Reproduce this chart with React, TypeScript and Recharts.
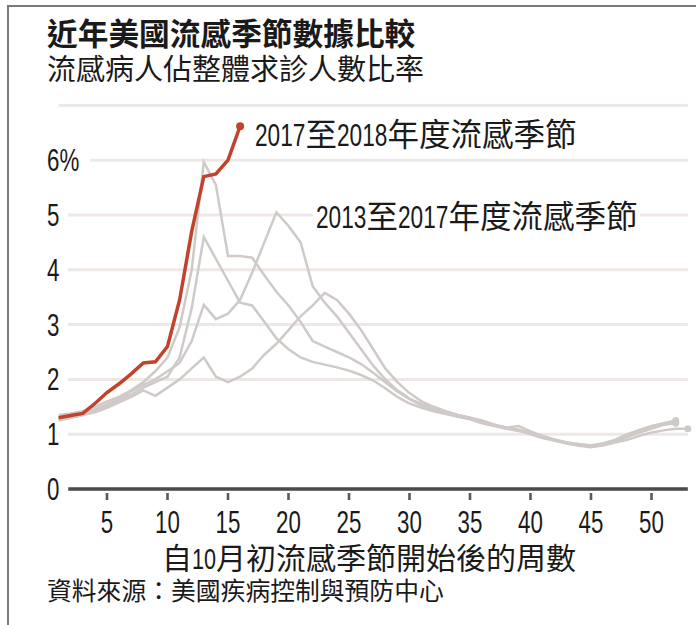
import { CartesianGrid, Line, LineChart, ReferenceLine, XAxis, YAxis } from "recharts";

const weeks = [
  1, 2, 3, 4, 5, 6, 7, 8, 9, 10, 11, 12, 13, 14, 15, 16, 17, 18, 19, 20, 21, 22, 23, 24, 25, 26,
  27, 28, 29, 30, 31, 32, 33, 34, 35, 36, 37, 38, 39, 40, 41, 42, 43, 44, 45, 46, 47, 48, 49, 50,
  51, 52, 53,
];

// 2017-18 season, weeks 1-16
const season1718 = [1.3, 1.34, 1.38, 1.56, 1.76, 1.92, 2.1, 2.3, 2.32, 2.6, 3.45, 4.7, 5.7, 5.75, 6.0, 6.62];

// 2013-17 seasons
const season1314 = [
  1.28, 1.3, 1.35, 1.42, 1.52, 1.62, 1.72, 1.85, 1.95, 2.05, 2.4, 3.3, 4.6, 4.2, 3.8, 3.4, 3.35, 3.05,
  2.75, 2.55, 2.4, 2.32, 2.27, 2.22, 2.16, 2.08, 1.98, 1.84, 1.68, 1.56, 1.48, 1.42, 1.37, 1.32, 1.27,
  1.2, 1.15, 1.1, 1.06, 1.0, 0.93, 0.88, 0.83, 0.79, 0.76, 0.8, 0.86, 0.95, 1.05, 1.12, 1.18, 1.22,
];
const season1415 = [
  1.35, 1.38, 1.42, 1.5, 1.6, 1.68, 1.8, 1.95, 2.15, 2.4, 2.95, 4.0, 5.97, 5.55, 4.25, 4.25, 4.22, 3.9,
  3.6, 3.35, 3.05, 2.7, 2.6, 2.5, 2.4, 2.28, 2.12, 1.95, 1.78, 1.64, 1.52, 1.45, 1.4, 1.33, 1.28,
  1.22, 1.17, 1.12, 1.08, 1.02, 0.95, 0.9, 0.85, 0.8, 0.78, 0.8, 0.85, 0.9, 0.97, 1.03, 1.07, 1.1, 1.1,
];
const season1516 = [
  1.25, 1.3, 1.35, 1.4, 1.48, 1.58, 1.68, 1.8, 1.7, 1.85, 2.0, 2.2, 2.4, 2.05, 1.95, 2.05, 2.2, 2.45,
  2.65, 2.9, 3.15, 3.35, 3.58, 3.45, 3.2, 2.9, 2.55, 2.2, 1.95, 1.75, 1.6, 1.5, 1.42, 1.35, 1.3, 1.25,
  1.18, 1.12, 1.08, 1.03, 0.96, 0.9, 0.85, 0.82, 0.8, 0.83, 0.88, 0.95, 1.03, 1.1, 1.17, 1.2,
];
const season1617 = [
  1.3, 1.33, 1.38, 1.45, 1.55, 1.65, 1.78, 1.9, 2.0, 2.15, 2.3, 2.7, 3.36, 3.1, 3.2, 3.45, 3.95, 4.5,
  5.05, 4.8, 4.5, 3.7, 3.4, 3.15, 2.85, 2.55, 2.25, 2.0, 1.8, 1.65, 1.55, 1.47, 1.4, 1.35, 1.3, 1.23,
  1.17, 1.12, 1.15, 1.05, 0.97, 0.9, 0.84, 0.8, 0.78, 0.83, 0.9, 1.0, 1.08, 1.15, 1.2, 1.25,
];

const xTicks = [5, 10, 15, 20, 25, 30, 35, 40, 45, 50];
const yTicks = [0, 1, 2, 3, 4, 5, 6];
const yLabels = ["0", "1", "2", "3", "4", "5", "6%"];

const greySeries = [
  { key: "s1314", values: season1314 },
  { key: "s1415", values: season1415 },
  { key: "s1516", values: season1516 },
  { key: "s1617", values: season1617 },
];

const rows = weeks.map((week, i) => {
  const row: Record<string, number | null> = { week };
  for (const s of greySeries) row[s.key] = s.values[i] ?? null;
  row.s1718 = season1718[i] ?? null;
  return row;
});

const LATIN = "'Liberation Sans', Arial, sans-serif";
const CJK = "'Noto Sans CJK TC', 'Noto Sans CJK SC', sans-serif";
const SQUEEZE = 0.72;

const GREY = "#cfcac8";
const RED = "#c1432b";

function XTick(props: any) {
  const { x, payload } = props;
  return (
    <g>
      <rect x={x - 1.3} y={493} width={2.6} height={7} fill="#5a5a5a" />
      <text
        transform={`translate(${x},533) scale(${SQUEEZE},1)`}
        textAnchor="middle"
        fontFamily={LATIN}
        fontSize={31}
        fill="#1a1a1a"
      >
        {payload.value}
      </text>
    </g>
  );
}

function YTick(props: any) {
  const { y, payload } = props;
  const label = yLabels[yTicks.indexOf(payload.value)];
  const w = label.length > 1 ? 46 : 24;
  return (
    <g>
      <rect x={44} y={y - 11} width={w} height={22} fill="#fff" />
      <text
        transform={`translate(47,${y + 11}) scale(${SQUEEZE},1)`}
        textAnchor="start"
        fontFamily={LATIN}
        fontSize={31}
        fill="#1a1a1a"
      >
        {label}
      </text>
    </g>
  );
}

function endDot(last: number, color: string, r: number) {
  return (p: any) =>
    p.index === last && p.value != null ? (
      <circle key={`d${p.index}`} cx={p.cx} cy={p.cy} r={r} fill={color} stroke="none" />
    ) : (
      <g key={`d${p.index}`} />
    );
}

// digits drawn in a squeezed Latin face, CJK left as is
function Mixed({ text, size }: { text: string; size: number }) {
  const runs = text.match(/[0-9%]+|[^0-9%]+/g) ?? [];
  return (
    <>
      {runs.map((run, i) =>
        /[0-9%]/.test(run) ? (
          <span
            key={i}
            style={{
              display: "inline-block",
              fontFamily: LATIN,
              transform: `scaleX(${SQUEEZE})`,
              transformOrigin: "0 0",
              marginRight: -run.length * 0.556 * size * (1 - SQUEEZE),
            }}
          >
            {run}
          </span>
        ) : (
          <span key={i}>{run}</span>
        ),
      )}
    </>
  );
}

const textBase: React.CSSProperties = {
  position: "absolute",
  whiteSpace: "nowrap",
  lineHeight: 1,
  color: "#1a1a1a",
  fontFamily: CJK,
};

export default function App() {
  return (
    <div style={{ position: "absolute", left: 0, top: 0, width: 696, height: 625, background: "#fff", overflow: "hidden" }}>
      <div style={{ position: "absolute", left: 8, top: 5, width: 688, height: 2, background: "#7a7a7a" }} />
      <div style={{ position: "absolute", left: 7, top: 5, width: 2, height: 620, background: "#7a7a7a" }} />

      <LineChart
        width={696}
        height={625}
        data={rows}
        margin={{ top: 105.4, right: 8.2, bottom: 106, left: 38.6 }}
        style={{ position: "absolute", left: 0, top: 0 }}
      >
        <CartesianGrid vertical={false} stroke="#ede8e6" strokeWidth={3} />
        <XAxis
          dataKey="week"
          type="number"
          domain={[1, 53]}
          ticks={xTicks}
          interval={0}
          height={30}
          axisLine={false}
          tickLine={false}
          tick={<XTick />}
        />
        <YAxis
          domain={[0, 7]}
          ticks={yTicks}
          interval={0}
          width={20}
          axisLine={false}
          tickLine={false}
          tick={<YTick />}
        />
        <ReferenceLine
          segment={[
            { x: 1.8, y: 0 },
            { x: 53, y: 0 },
          ]}
          stroke="#4a4a4a"
          strokeWidth={3.5}
        />
        {greySeries.map((s) => (
          <Line
            key={s.key}
            dataKey={s.key}
            type="linear"
            stroke={GREY}
            strokeWidth={2.5}
            dot={endDot(s.values.length - 1, GREY, 3.5)}
            activeDot={false}
            isAnimationActive={false}
          />
        ))}
        <Line
          dataKey="s1718"
          type="linear"
          stroke={RED}
          strokeWidth={3.5}
          dot={endDot(season1718.length - 1, RED, 4)}
          activeDot={false}
          isAnimationActive={false}
        />
      </LineChart>

      <div style={{ ...textBase, left: 47, top: 17, fontWeight: 700, fontSize: 30.7 }}>近年美國流感季節數據比較</div>
      <div style={{ ...textBase, left: 47, top: 53, fontSize: 29 }}>流感病人佔整體求診人數比率</div>
      <div style={{ ...textBase, left: 252, top: 117, fontSize: 31.5, background: "#fff", padding: "0 3px" }}>
        <Mixed text="2017至2018年度流感季節" size={31.5} />
      </div>
      <div style={{ ...textBase, left: 313, top: 199, fontSize: 31.5, background: "#fff", padding: "0 3px" }}>
        <Mixed text="2013至2017年度流感季節" size={31.5} />
      </div>
      <div style={{ ...textBase, left: 162, top: 541, fontSize: 30 }}>
        <Mixed text="自10月初流感季節開始後的周數" size={30} />
      </div>
      <div style={{ ...textBase, left: 47, top: 577, fontSize: 24.8 }}>資料來源：美國疾病控制與預防中心</div>
    </div>
  );
}
